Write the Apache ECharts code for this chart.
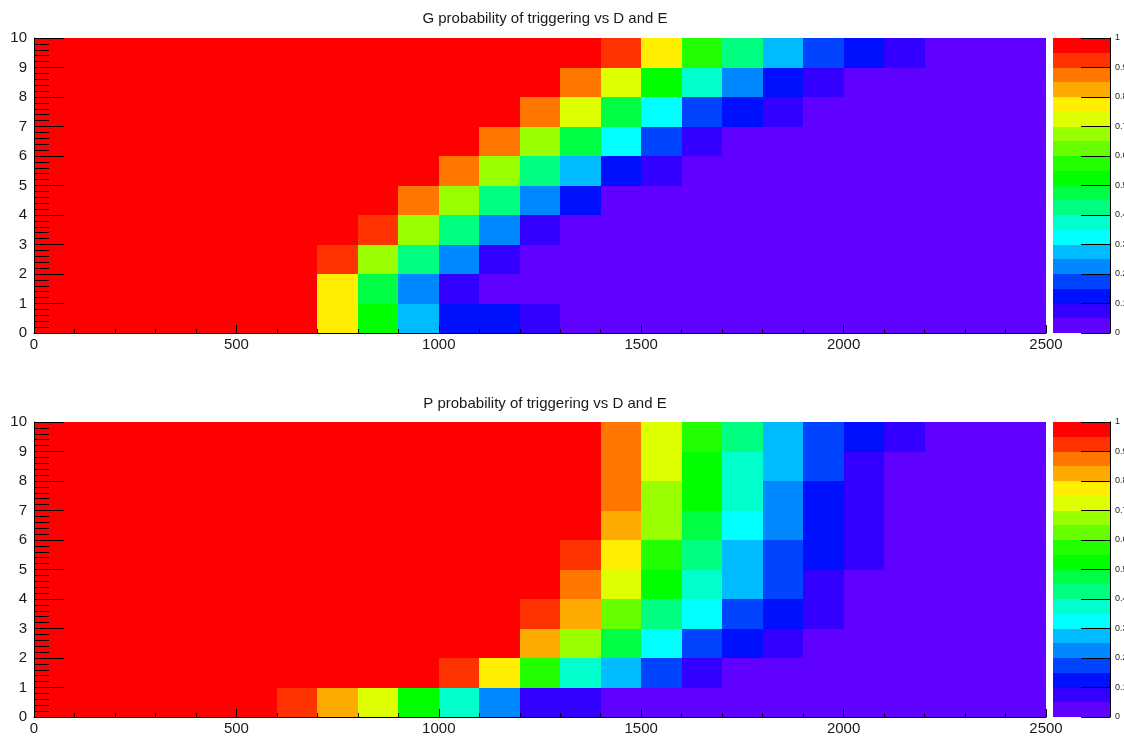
<!DOCTYPE html>
<html>
<head>
<meta charset="utf-8">
<script src="https://cdn.jsdelivr.net/npm/echarts@6/dist/echarts.min.js"></script>
<style>
html,body{margin:0;padding:0;background:#fff;}
#c{width:1124px;height:736px;}
</style>
</head>
<body>
<div id="c"></div>
<script>
// ---- data ----
const TITLE_G = 'G probability of triggering vs D and E';
const TITLE_P = 'P probability of triggering vs D and E';
const X_BIN_WIDTH = 100;           // D bins: 0..2500 step 100
const X_TICKS = [0, 500, 1000, 1500, 2000, 2500];
const Y_TICKS = [0,1,2,3,4,5,6,7,8,9,10];
const Z_TICKS = [0,0.1,0.2,0.3,0.4,0.5,0.6,0.7,0.8,0.9,1];

// probability per E row (index = E bin 0..9), 25 D bins each
const G_PROB = [
  [1,1,1,1,1,1,1,0.77,0.52,0.27,0.12,0.12,0.07,0.02,0.02,0.02,0.02,0.02,0.02,0.02,0.02,0.02,0.02,0.02,0.02],
  [1,1,1,1,1,1,1,0.77,0.47,0.22,0.07,0.02,0.02,0.02,0.02,0.02,0.02,0.02,0.02,0.02,0.02,0.02,0.02,0.02,0.02],
  [1,1,1,1,1,1,1,0.92,0.67,0.42,0.22,0.07,0.02,0.02,0.02,0.02,0.02,0.02,0.02,0.02,0.02,0.02,0.02,0.02,0.02],
  [1,1,1,1,1,1,1,1,0.92,0.67,0.42,0.22,0.07,0.02,0.02,0.02,0.02,0.02,0.02,0.02,0.02,0.02,0.02,0.02,0.02],
  [1,1,1,1,1,1,1,1,1,0.87,0.67,0.42,0.22,0.12,0.02,0.02,0.02,0.02,0.02,0.02,0.02,0.02,0.02,0.02,0.02],
  [1,1,1,1,1,1,1,1,1,1,0.87,0.67,0.42,0.27,0.12,0.07,0.02,0.02,0.02,0.02,0.02,0.02,0.02,0.02,0.02],
  [1,1,1,1,1,1,1,1,1,1,1,0.87,0.67,0.47,0.32,0.17,0.07,0.02,0.02,0.02,0.02,0.02,0.02,0.02,0.02],
  [1,1,1,1,1,1,1,1,1,1,1,1,0.87,0.72,0.47,0.32,0.17,0.12,0.07,0.02,0.02,0.02,0.02,0.02,0.02],
  [1,1,1,1,1,1,1,1,1,1,1,1,1,0.87,0.72,0.52,0.37,0.22,0.12,0.07,0.02,0.02,0.02,0.02,0.02],
  [1,1,1,1,1,1,1,1,1,1,1,1,1,1,0.92,0.77,0.57,0.42,0.27,0.17,0.12,0.07,0.02,0.02,0.02]
];
const P_PROB = [
  [1,1,1,1,1,1,0.92,0.82,0.72,0.52,0.37,0.22,0.07,0.07,0.02,0.02,0.02,0.02,0.02,0.02,0.02,0.02,0.02,0.02,0.02],
  [1,1,1,1,1,1,1,1,1,1,0.92,0.77,0.57,0.37,0.27,0.17,0.07,0.02,0.02,0.02,0.02,0.02,0.02,0.02,0.02],
  [1,1,1,1,1,1,1,1,1,1,1,1,0.82,0.67,0.47,0.32,0.17,0.12,0.07,0.02,0.02,0.02,0.02,0.02,0.02],
  [1,1,1,1,1,1,1,1,1,1,1,1,0.92,0.82,0.62,0.42,0.32,0.17,0.12,0.07,0.02,0.02,0.02,0.02,0.02],
  [1,1,1,1,1,1,1,1,1,1,1,1,1,0.87,0.72,0.52,0.37,0.27,0.17,0.07,0.02,0.02,0.02,0.02,0.02],
  [1,1,1,1,1,1,1,1,1,1,1,1,1,0.92,0.77,0.57,0.42,0.27,0.17,0.12,0.07,0.02,0.02,0.02,0.02],
  [1,1,1,1,1,1,1,1,1,1,1,1,1,1,0.82,0.67,0.47,0.32,0.22,0.12,0.07,0.02,0.02,0.02,0.02],
  [1,1,1,1,1,1,1,1,1,1,1,1,1,1,0.87,0.67,0.52,0.37,0.22,0.12,0.07,0.02,0.02,0.02,0.02],
  [1,1,1,1,1,1,1,1,1,1,1,1,1,1,0.87,0.72,0.52,0.37,0.27,0.17,0.07,0.02,0.02,0.02,0.02],
  [1,1,1,1,1,1,1,1,1,1,1,1,1,1,0.87,0.72,0.57,0.42,0.27,0.17,0.12,0.07,0.02,0.02,0.02]
];

// ---- style ----
const PALETTE = ['#6000ff','#3300ff','#0010ff','#0044ff','#0088ff','#00bbff','#00ffff','#00ffcc','#00ff80','#00ff44',
                 '#00ff00','#22ff00','#66ff00','#99ff00','#ddff00','#ffee00','#ffaa00','#ff7700','#ff3300','#ff0000'];
function colorOf(v){
  let k = Math.floor(v * PALETTE.length + 1e-9);
  if (k >= PALETTE.length) k = PALETTE.length - 1;
  if (k < 0) k = 0;
  return PALETTE[k];
}
function toCells(rows){
  const out = [];
  rows.forEach((row, yi) => row.forEach((v, xi) => out.push([xi * X_BIN_WIDTH, yi, v])));
  return out;
}
const FONT = 'Liberation Sans, Arial, Helvetica, sans-serif';
const TXT = '#1a1a1a';

const PLOT_LEFT = 34, PLOT_W = 1012, PLOT_H = 295;
const TOPS = [38, 422];
const BAR_LEFT = 1053, BAR_W = 57;

const chart = echarts.init(document.getElementById('c'), null, {renderer:'canvas'});

function snapRect(p1, p2){
  const x = Math.round(p1[0]), y = Math.round(p1[1]);
  return {x: x, y: y, width: Math.round(p2[0]) - x, height: Math.round(p2[1]) - y};
}

const grids = [], xAxes = [], yAxes = [], series = [];
TOPS.forEach((top, i) => {
  grids.push({left: PLOT_LEFT, top: top, width: PLOT_W, height: PLOT_H, containLabel:false, outerBoundsMode:'none'});
  grids.push({left: BAR_LEFT, top: top, width: BAR_W, height: PLOT_H, containLabel:false, outerBoundsMode:'none'});
  xAxes.push({
    type:'value', gridIndex: 2*i, min: X_TICKS[0], max: X_TICKS[X_TICKS.length-1], interval: 500, z: 10,
    axisLine:{show:true, onZero:false, lineStyle:{color:'#000', width:1}},
    axisTick:{show:true, inside:true, length:8, lineStyle:{color:'#000'}},
    minorTick:{show:true, splitNumber:5, length:4, lineStyle:{color:'#000'}},
    splitLine:{show:false},
    axisLabel:{color:TXT, fontSize:15, fontFamily:FONT, margin:4,
      formatter: v => X_TICKS.indexOf(v) >= 0 ? String(v) : ''}
  });
  yAxes.push({
    type:'value', gridIndex: 2*i, position:'left', min: Y_TICKS[0], max: Y_TICKS[Y_TICKS.length-1], interval: 1, z: 10,
    axisLine:{show:true, onZero:false, lineStyle:{color:'#000', width:1}},
    axisTick:{show:true, inside:true, length:30, lineStyle:{color:'#000'}},
    minorTick:{show:true, splitNumber:5, length:15, lineStyle:{color:'#000'}},
    splitLine:{show:false},
    axisLabel:{color:TXT, fontSize:15, fontFamily:FONT, margin:7}
  });
  xAxes.push({type:'value', gridIndex: 2*i+1, min:0, max:1, show:false});
  yAxes.push({
    type:'value', gridIndex: 2*i+1, position:'right', min:0, max:1, interval:0.1, z:10,
    axisLine:{show:true, onZero:false, lineStyle:{color:'#000', width:1}},
    axisTick:{show:true, inside:true, length:29, lineStyle:{color:'#000'}},
    splitLine:{show:false},
    axisLabel:{color:TXT, fontSize:9, fontFamily:FONT, margin:5,
      formatter: v => { const r = Math.round(v*10)/10; return Z_TICKS.indexOf(r) >= 0 ? String(r) : ''; }}
  });
  const rows = i === 0 ? G_PROB : P_PROB;
  series.push({
    type:'custom', xAxisIndex: 2*i, yAxisIndex: 2*i, data: toCells(rows),
    encode:{x:0, y:1}, silent:true, clip:false,
    renderItem: function(params, api){
      const x0 = api.value(0), y0 = api.value(1), v = api.value(2);
      const r = snapRect(api.coord([x0, y0 + 1]), api.coord([x0 + X_BIN_WIDTH, y0]));
      return {type:'rect', shape:r, style:{fill: colorOf(v)}};
    }
  });
  series.push({
    type:'custom', xAxisIndex: 2*i+1, yAxisIndex: 2*i+1,
    data: PALETTE.map((c, k) => [0, k / PALETTE.length, (k + 0.5) / PALETTE.length]),
    encode:{x:0, y:1}, silent:true, clip:false,
    renderItem: function(params, api){
      const lo = api.value(1), v = api.value(2);
      const r = snapRect(api.coord([0, lo + 1 / PALETTE.length]), api.coord([1, lo]));
      return {type:'rect', shape:r, style:{fill: colorOf(v)}};
    }
  });
});

chart.setOption({
  animation:false,
  backgroundColor:'#ffffff',
  title:[
    {text:TITLE_G, left:540, top:6, textAlign:'center',
     textStyle:{fontSize:15, fontWeight:'normal', color:TXT, fontFamily:FONT}},
    {text:TITLE_P, left:540, top:391, textAlign:'center',
     textStyle:{fontSize:15, fontWeight:'normal', color:TXT, fontFamily:FONT}}
  ],
  grid: grids,
  xAxis: xAxes,
  yAxis: yAxes,
  series: series
});
</script>
</body>
</html>
